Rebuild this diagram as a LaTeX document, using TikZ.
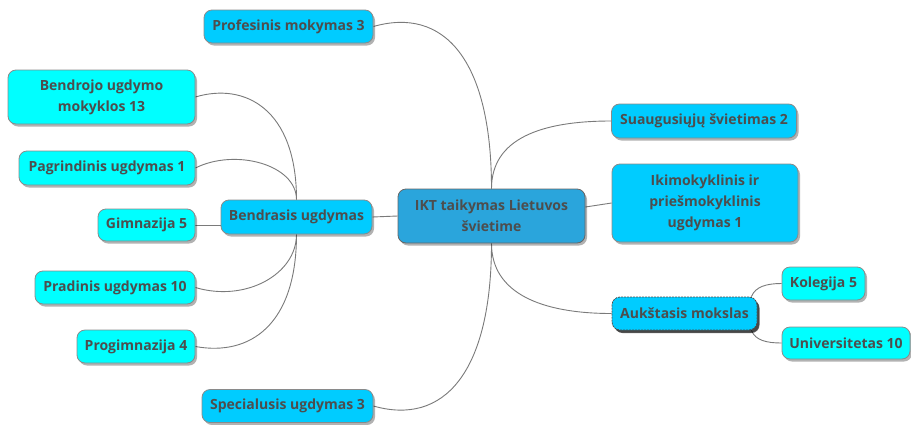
\documentclass[tikz,border=0pt]{standalone}
\usepackage{fontspec}
\setmainfont{Open Sans}
\usetikzlibrary{shadows,backgrounds}
\definecolor{rootc}{HTML}{2AA5DC}
\definecolor{lvone}{HTML}{00CCFF}
\definecolor{lvtwo}{HTML}{00FFFF}
\definecolor{txt}{HTML}{4D4D4D}
\definecolor{edgec}{HTML}{7A7A7A}
\definecolor{bord}{HTML}{8A8A8A}
\tikzset{
  box/.style={rounded corners=8pt, draw=bord, line width=0.8pt, text=txt,
    font=\fontsize{14}{21}\selectfont\bfseries, align=center, inner sep=0pt,
    drop shadow={shadow xshift=2pt, shadow yshift=-2.5pt, fill=black, opacity=0.3}},
  rootbox/.style={box, fill=rootc, draw=gray!80!black},
  onebox/.style={box, fill=lvone},
  twobox/.style={box, fill=lvtwo},
  selbox/.style={box, fill=lvone, draw=gray!60!black, dash pattern=on 2pt off 1pt,
    drop shadow={shadow xshift=2.5pt, shadow yshift=-3pt, fill=black, opacity=0.6}},
  conn/.style={draw=edgec, line width=0.9pt},
}
\begin{document}
\begin{tikzpicture}[x=1pt,y=-1pt]
\useasboundingbox (0,0) rectangle (911,424);
\node[rootbox, minimum width=187pt, minimum height=54pt] (root) at (491.5,216) {IKT taikymas Lietuvos\\švietime};
\node[onebox, minimum width=169pt, minimum height=33pt] (prof) at (288.5,26.5) {Profesinis mokymas 3};
\node[onebox, minimum width=171pt, minimum height=33pt] (spec) at (287.5,406) {Specialusis ugdymas 3};
\node[onebox, minimum width=151pt, minimum height=34pt] (bend) at (296.5,217) {Bendrasis ugdymas};
\node[twobox, minimum width=187pt, minimum height=54pt] (bendr) at (101.5,97) {Bendrojo ugdymo\\mokyklos 13};
\node[twobox, minimum width=176pt, minimum height=34pt] (pag) at (107,168) {Pagrindinis ugdymas 1};
\node[twobox, minimum width=97pt, minimum height=32pt] (gim) at (146.5,225) {Gimnazija 5};
\node[twobox, minimum width=160pt, minimum height=33pt] (pra) at (115,287.5) {Pradinis ugdymas 10};
\node[twobox, minimum width=118pt, minimum height=33pt] (prog) at (136,346.5) {Progimnazija 4};
\node[onebox, minimum width=185pt, minimum height=34pt] (suau) at (704,121) {Suaugusiųjų švietimas 2};
\node[onebox, minimum width=186pt, minimum height=78pt] (iki) at (705,203) {Ikimokyklinis ir\\priešmokyklinis\\ugdymas 1};
\node[selbox, minimum width=145pt, minimum height=33pt] (auk) at (684.5,313.5) {Aukštasis mokslas};
\node[twobox, minimum width=83pt, minimum height=33pt] (kol) at (823.5,283.5) {Kolegija 5};
\node[twobox, minimum width=128pt, minimum height=32pt] (uni) at (846,343) {Universitetas 10};
\begin{scope}[on background layer]
\draw[conn] (prof.east) .. controls +(70,-20) and +(0,-130) .. (root.north);
\draw[conn] (spec.east) .. controls +(70,20) and +(0,130) .. (root.south);
\draw[conn] (root.north) .. controls +(0,-50) and +(-70,0) .. (suau.west);
\draw[conn] ([yshift=9pt]root.east) -- (iki.west);
\draw[conn] (root.south) .. controls +(0,50) and +(-70,0) .. (auk.west);
\draw[conn] (root.west) -- (bend.east);
\draw[conn] (bendr.east) .. controls +(50,-15) and +(0,-90) .. (bend.north);
\draw[conn] (pag.east) .. controls +(40,-20) and +(0,-35) .. (bend.north);
\draw[conn] (gim.east) -- (gim.east -| bend.west);
\draw[conn] (pra.east) .. controls +(50,15) and +(0,40) .. (bend.south);
\draw[conn] (prog.east) .. controls +(55,10) and +(0,90) .. (bend.south);
\draw[conn] ([xshift=-6pt]auk.north east) .. controls +(4,-10) and +(-15,0) .. (kol.west);
\draw[conn] ([xshift=-6pt]auk.south east) .. controls +(4,10) and +(-15,0) .. (uni.west);
\end{scope}
\end{tikzpicture}
\end{document}
